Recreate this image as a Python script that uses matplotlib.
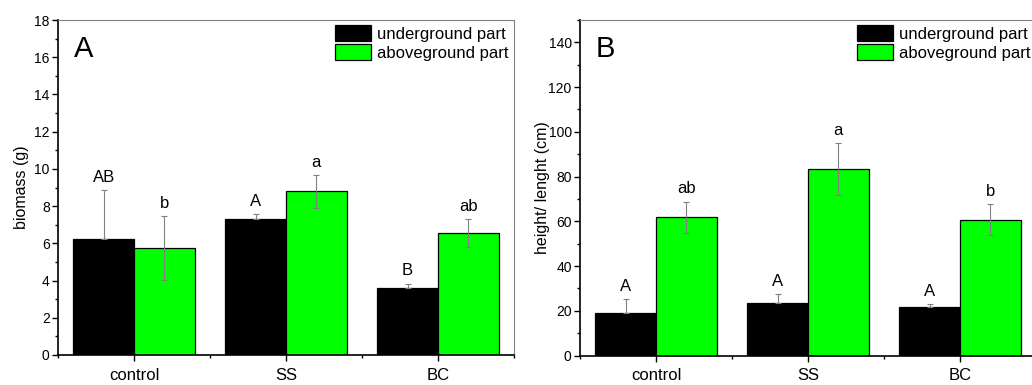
import numpy as np
import matplotlib.pyplot as plt
from matplotlib.ticker import MultipleLocator, FixedLocator

plt.rcParams['font.family'] = ['Liberation Sans', 'DejaVu Sans']

categories = ['control', 'SS', 'BC']
series = ['underground part', 'aboveground part']

# panel A: biomass (g)
bio_under = [6.25, 7.33, 3.58]
bio_under_err = [2.62, 0.22, 0.26]
bio_above = [5.75, 8.80, 6.55]
bio_above_err = [1.72, 0.88, 0.74]
bio_under_lbl = ['AB', 'A', 'B']
bio_above_lbl = ['b', 'a', 'ab']

# panel B: height / length (cm)
len_under = [18.9, 23.3, 21.8]
len_under_err = [6.3, 4.2, 1.1]
len_above = [61.8, 83.3, 60.8]
len_above_err = [7.0, 11.5, 6.8]
len_under_lbl = ['A', 'A', 'A']
len_above_lbl = ['ab', 'a', 'b']

BLACK = '#000000'
GREEN = '#00ff00'
GREY = '#808080'

fig = plt.figure(figsize=(10.32, 3.85), dpi=100)
W, H = 1032, 385
axA = fig.add_axes([58 / W, 30 / H, 456 / W, 335 / H])
axB = fig.add_axes([580 / W, 29.5 / H, 456 / W, 335.5 / H])


def panel(ax, under, uerr, above, aerr, ulbl, albl, ymax, major, minor, ylabel, tag, lpad):
    x = np.arange(1, len(categories) + 1)
    w = 0.4
    ax.bar(x - w / 2, under, w, color=BLACK, edgecolor='black', linewidth=0.9,
           label=series[0], zorder=2)
    ax.bar(x + w / 2, above, w, color=GREEN, edgecolor='black', linewidth=0.9,
           label=series[1], zorder=2)
    ax.errorbar(x - w / 2, under, yerr=[np.zeros(len(uerr)), uerr], fmt='none',
                ecolor=GREY, elinewidth=0.8, capsize=2.5, capthick=0.8, zorder=3)
    ax.errorbar(x + w / 2, above, yerr=aerr, fmt='none',
                ecolor=GREY, elinewidth=0.8, capsize=2.5, capthick=0.8, zorder=3)
    for xi, v, e, t in zip(x - w / 2, under, uerr, ulbl):
        ax.annotate(t, (xi, v + e), xytext=(0, 6), textcoords='offset points',
                    ha='center', va='baseline', fontsize=12)
    for xi, v, e, t in zip(x + w / 2, above, aerr, albl):
        ax.annotate(t, (xi, v + e), xytext=(0, 6), textcoords='offset points',
                    ha='center', va='baseline', fontsize=12)

    ax.set_xlim(0.5, 3.5)
    ax.set_ylim(0, ymax)
    ax.set_xticks(x)
    ax.set_xticklabels(categories)
    ax.xaxis.set_minor_locator(FixedLocator([0.5, 1.5, 2.5, 3.5]))
    ax.yaxis.set_major_locator(MultipleLocator(major))
    ax.yaxis.set_minor_locator(MultipleLocator(minor))
    ax.tick_params(axis='both', which='major', direction='out', length=4,
                   width=1, pad=2)
    ax.tick_params(axis='both', which='minor', direction='out', length=2.2, width=1)
    ax.tick_params(axis='y', which='major', labelsize=10)
    ax.tick_params(axis='x', which='major', labelsize=12, pad=5)
    ax.set_ylabel(ylabel, fontsize=11.5, labelpad=lpad)

    for s in ('left', 'bottom'):
        ax.spines[s].set_linewidth(1.2)
        ax.spines[s].set_color('black')
    for s in ('top', 'right'):
        ax.spines[s].set_linewidth(0.8)
        ax.spines[s].set_color(GREY)

    ax.text(0.035, 0.955, tag, transform=ax.transAxes, fontsize=21,
            ha='left', va='top')
    ax.legend(loc='upper left', bbox_to_anchor=(0.607, 0.985), frameon=False,
              fontsize=12, handlelength=2.16, handleheight=1.08,
              handletextpad=0.35, labelspacing=0.15, borderpad=0, borderaxespad=0)


panel(axA, bio_under, bio_under_err, bio_above, bio_above_err,
      bio_under_lbl, bio_above_lbl, 18, 2, 1, 'biomass (g)', 'A', 4)
panel(axB, len_under, len_under_err, len_above, len_above_err,
      len_under_lbl, len_above_lbl, 150, 20, 10, 'height/ lenght (cm)', 'B', -1)
axB.set_yticks(np.arange(0, 141, 20))

fig.savefig('out.png', dpi=100)
